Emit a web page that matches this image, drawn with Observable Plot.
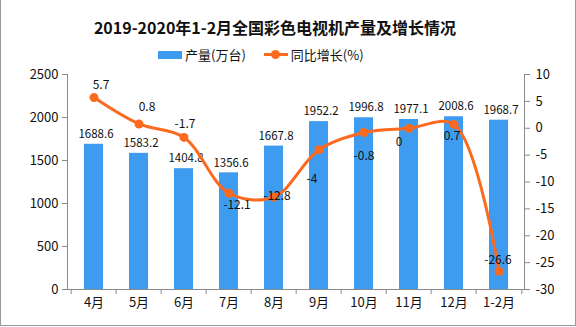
<!DOCTYPE html>
<html><head><meta charset="utf-8">
<script src="https://cdn.jsdelivr.net/npm/d3@7"></script>
<script src="https://cdn.jsdelivr.net/npm/@observablehq/plot@0.6"></script>
<style>
html,body{margin:0;padding:0;background:#fff;}
#wrap{position:relative;width:576px;height:327px;overflow:hidden;font-family:"Noto Sans CJK SC","Noto Sans",sans-serif;}
#border{position:absolute;left:0;top:0;width:574px;height:325px;border:1px solid #9a9a9a;border-top:none;pointer-events:none;}
#title{position:absolute;left:0;width:550px;top:15px;text-align:center;font-size:16px;font-weight:bold;color:#111;font-family:"Noto Sans CJK SC",sans-serif;}
#legend{position:absolute;top:45px;left:158px;font-size:13px;color:#111;display:flex;align-items:center;}
.sw{display:inline-block;width:24px;height:8px;background:#3d9cf0;margin-right:3px;}
.ln{display:inline-block;position:relative;width:24px;height:3px;background:#fb6a1e;margin:0 3px 0 18px;}
.ln::after{content:"";position:absolute;left:7px;top:-3px;width:9px;height:9px;border-radius:50%;background:#fb6a1e;}
svg{position:absolute;left:0;top:0;}
</style></head>
<body><div id="wrap"><div id="chart"></div><div id="title"></div><div id="legend"></div><div id="border"></div></div>
<script>
const titleText = "2019-2020年1-2月全国彩色电视机产量及增长情况";
const seriesNames = ["产量(万台)", "同比增长(%)"];
const months = ["4月","5月","6月","7月","8月","9月","10月","11月","12月","1-2月"];
const output = [1688.6,1583.2,1404.8,1356.6,1667.8,1952.2,1996.8,1977.1,2008.6,1968.7];
const growth = [5.7,0.8,-1.7,-12.1,-12.8,-4,-0.8,0,0.7,-26.6];
const leftTicks = [0,500,1000,1500,2000,2500];
const rightTicks = [-30,-25,-20,-15,-10,-5,0,5,10];
// label placement offsets for growth labels (style)
const growthLabelDx = [7,8,1,8,3,-7,0,-10,-2,-1];
const growthLabelDy = [-12,-17,-13,12,-1,29,24,14,12,-11];

document.getElementById("title").textContent = titleText;
document.getElementById("legend").innerHTML =
  `<span class="sw"></span><span>${seriesNames[0]}</span><span class="ln"></span><span>${seriesNames[1]}</span>`;

const leftMax = 2500, rMin = -30, rMax = 10;
const toLeft = p => (p - rMin) * leftMax / (rMax - rMin);
const fromLeft = v => v * (rMax - rMin) / leftMax + rMin;

const data = months.map((m, i) => ({
  m, out: output[i], g: growth[i], gy: toLeft(growth[i]),
  gdx: growthLabelDx[i], gdy: growthLabelDy[i]
}));

const W = 576, H = 327, ml = 67, mr = 52;
const step = (W - ml - mr) / months.length;
const axisColor = "#8a8a8a";
const numFont = "Noto Sans CJK SC, sans-serif";

const marks = [
  Plot.barY(data, {x: "m", y: "out", fill: "#3d9cf0"}),
  Plot.text(data, {x: "m", y: "out", text: d => d.out.toFixed(1), dy: -10, dx: 2, fontSize: 11.5, fill: "#111", fontFamily: numFont}),
  Plot.line(data, {x: "m", y: "gy", stroke: "#fb6a1e", strokeWidth: 3, curve: "catmull-rom"}),
  Plot.dot(data, {x: "m", y: "gy", r: 4.5, fill: "#fb6a1e"}),
  ...data.map(d => Plot.text([d], {x: "m", y: "gy", text: e => String(e.g), dx: d.gdx, dy: d.gdy, fontSize: 12, fill: "#111", fontFamily: numFont})),
  Plot.ruleY([0], {stroke: axisColor}),
  Plot.axisY({anchor: "left", ticks: leftTicks, tickFormat: v => String(v), tickSize: 5, tickPadding: 4, stroke: axisColor, fill: "#111", fontSize: 13, label: null}),
  Plot.axisY({anchor: "right", ticks: rightTicks.map(toLeft), tickFormat: v => String(Math.round(fromLeft(v))), tickSize: 5, tickPadding: 6, stroke: axisColor, fill: "#111", fontSize: 13, label: null}),
  Plot.frame({anchor: "left", stroke: axisColor}),
  Plot.frame({anchor: "right", stroke: axisColor}),
  Plot.axisX({tickSize: 5, text: null, dx: -step / 2, stroke: axisColor}),
  Plot.axisX({ticks: [months[months.length - 1]], tickSize: 5, text: null, dx: step / 2, stroke: axisColor}),
  Plot.axisX({tickSize: 0, tickPadding: 8, fill: "#111", fontSize: 13, label: null})
];

const chart = Plot.plot({
  width: W, height: H,
  marginTop: 74, marginBottom: 38, marginLeft: ml, marginRight: mr,
  style: {background: "transparent", fontFamily: numFont},
  x: {domain: months, paddingInner: 0.58, paddingOuter: 0.29, label: null},
  y: {domain: [0, leftMax], label: null},
  marks
});
document.getElementById("chart").appendChild(chart);
</script></body></html>
